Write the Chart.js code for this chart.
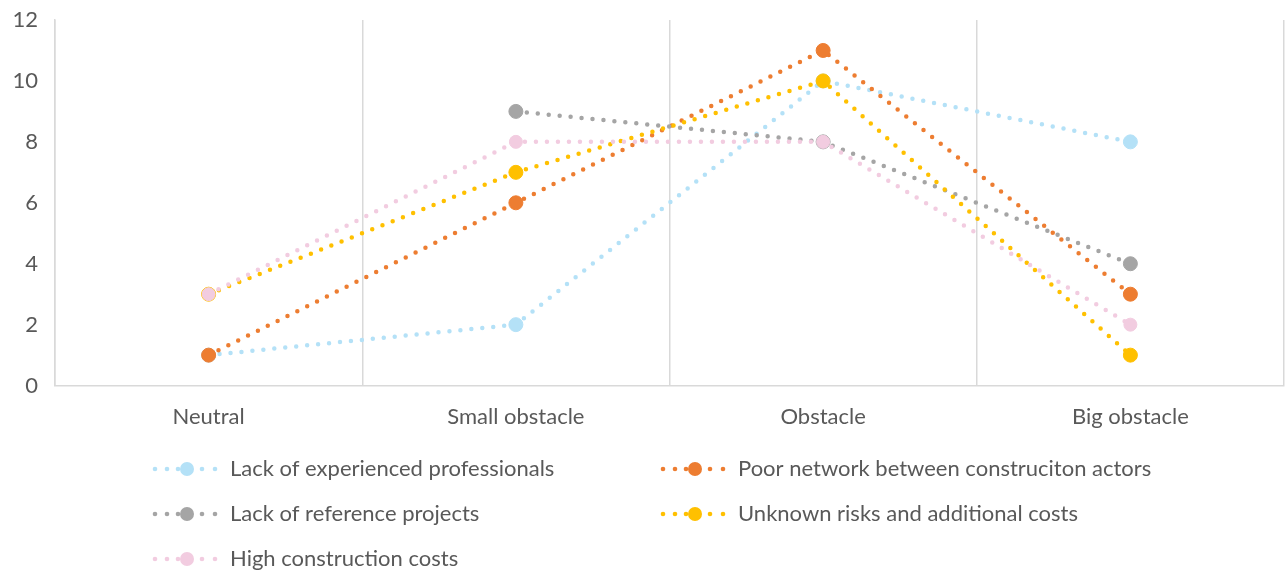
<!DOCTYPE html>
<html>
<head>
<meta charset="utf-8">
<script src="https://cdn.jsdelivr.net/npm/chart.js@4/dist/chart.umd.min.js"></script>
<style>
	html, body { margin: 0; padding: 0; background: #fff; }
	#wrap { width: 1285px; height: 571px; }
</style>
</head>
<body>
<div id="wrap"><canvas id="Obstacles" width="1285" height="571"></canvas></div>
<script>
const categories = ['Neutral', 'Small obstacle', 'Obstacle', 'Big obstacle'];
const seriesNames = [
	'Lack of experienced professionals',
	'Poor network between construciton actors',
	'Lack of reference projects',
	'Unknown risks and additional costs',
	'High construction costs'
];
const professionals = [1, 2, 10, 8];
const network = [1, 6, 11, 3];
const referenceProjects = [null, 9, 8, 4];
const unknownRisks = [3, 7, 10, 1];
const constructionCosts = [3, 8, 8, 2];
const yTicks = [0, 2, 4, 6, 8, 10, 12];

const colors = ['#b4e1f7', '#ed7d31', '#a5a5a5', '#ffc000', '#f2cce0'];
const values = [professionals, network, referenceProjects, unknownRisks, constructionCosts];
const FONT = 'Lato, "Open Sans", sans-serif';
const FONT_SIZE = 22;
const TEXT = '#595959';

function dotted(i) {
	return {
		label: seriesNames[i],
		data: values[i],
		borderColor: colors[i],
		backgroundColor: colors[i],
		borderWidth: 4.5,
		borderDash: [0, 11],
		borderCapStyle: 'round',
		pointRadius: i === 4 ? 6.5 : 7,
		pointHoverRadius: 7,
		pointBackgroundColor: colors[i],
		pointBorderColor: colors[i],
		pointBorderWidth: 1,
		tension: 0,
		spanGaps: false,
		order: 5 - i
	};
}

// legend drawn as two columns under the plot
const gridLegend = {
	id: 'gridLegend',
	afterDraw(chart) {
		const ctx = chart.ctx;
		const cols = [152, 660];
		const rows = [469, 514, 559];
		ctx.save();
		chart.data.datasets.forEach((ds, i) => {
			const x = cols[i % 2];
			const y = rows[Math.floor(i / 2)];
			ctx.fillStyle = ds.borderColor;
			for (const dx of [3, 15, 26, 50, 63]) {
				ctx.beginPath();
				ctx.arc(x + dx, y, 2.3, 0, Math.PI * 2);
				ctx.fill();
			}
			ctx.beginPath();
			ctx.arc(x + 35, y, 7, 0, Math.PI * 2);
			ctx.fill();
			ctx.fillStyle = TEXT;
			ctx.font = FONT_SIZE + 'px ' + FONT;
			ctx.textBaseline = 'middle';
			ctx.fillText(ds.label, x + 78, y);
		});
		ctx.restore();
	}
};

new Chart(document.getElementById('Obstacles').getContext('2d'), {
	type: 'line',
	data: {
		labels: categories,
		datasets: [0, 1, 2, 3, 4].map(dotted)
	},
	options: {
		responsive: false,
		animation: false,
		layout: {
			autoPadding: false,
			padding: {left: 12, right: 1, top: 20, bottom: 123}
		},
		plugins: {
			legend: {display: false},
			tooltip: {enabled: false}
		},
		scales: {
			x: {
				offset: true,
				afterFit(axis) {
					axis.paddingLeft = 0;
					axis.paddingRight = 0;
				},
				grid: {
					offset: true,
					color: '#d9d9d9',
					lineWidth: 1.5,
					drawTicks: false
				},
				border: {color: '#d9d9d9', width: 1.5},
				ticks: {
					color: TEXT,
					font: {family: FONT, size: FONT_SIZE},
					padding: 18
				}
			},
			y: {
				min: 0,
				max: 12,
				afterBuildTicks(axis) {
					axis.ticks = yTicks.map(v => ({value: v}));
				},
				afterFit(axis) {
					axis.width = 43;
					axis.paddingTop = 0;
					axis.paddingBottom = 0;
				},
				grid: {display: false, drawTicks: false},
				border: {color: '#d9d9d9', width: 1.5},
				ticks: {
					color: TEXT,
					font: {family: FONT, size: FONT_SIZE},
					padding: 17
				}
			}
		}
	},
	plugins: [gridLegend]
});
</script>
</body>
</html>
